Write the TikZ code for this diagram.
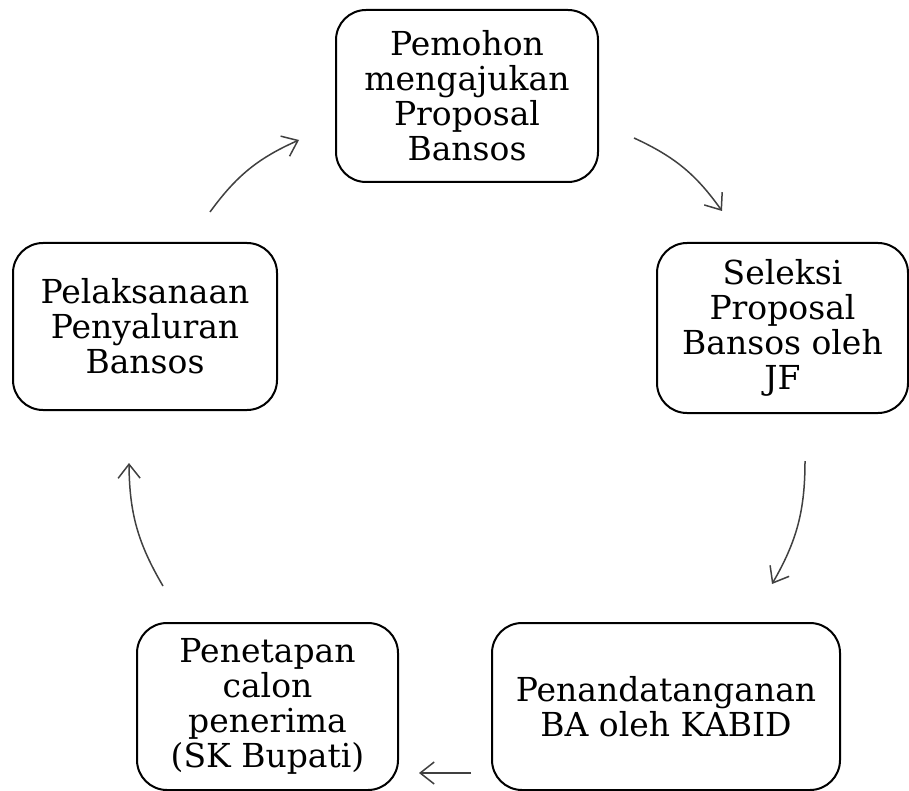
\documentclass[tikz,border=0pt]{standalone}
\usepackage{fontspec}
\setmainfont{DejaVu Serif}
\usetikzlibrary{arrows.meta}

\tikzset{
  tahap/.style={draw, line width=2pt, rounded corners=30pt, align=center,
    inner sep=0pt, font=\fontsize{33}{35}\selectfont},
  alur/.style={line width=1.5pt, draw=black!75,
    -{Straight Barb[length=14pt,width=22pt,line width=1.5pt]}}
}

\begin{document}
\begin{tikzpicture}[x=1pt, y=-1pt]

  \useasboundingbox (0,0) rectangle (909,791);

  % tahapan
  \node[tahap, minimum width=262pt, minimum height=172pt] (pem) at (467,96)
    {Pemohon\\mengajukan\\Proposal\\Bansos};
  \node[tahap, minimum width=251pt, minimum height=170pt] (sel) at (782.5,328)
    {Seleksi\\Proposal\\Bansos oleh\\JF};
  \node[tahap, minimum width=348pt, minimum height=167pt] (pen) at (666,706.5)
    {Penandatanganan\\BA oleh KABID};
  \node[tahap, minimum width=261pt, minimum height=167pt] (pet) at (267.5,706.5)
    {Penetapan\\calon\\penerima\\(SK Bupati)};
  \node[tahap, minimum width=264pt, minimum height=167pt] (pel) at (145,326.5)
    {Pelaksanaan\\Penyaluran\\Bansos};

  % alur
  \draw[alur] ([xshift=65pt,yshift=30pt]pel.north) to[bend left=15]
    ([xshift=-36pt,yshift=-44pt]pem.west);
  \draw[alur] ([xshift=35pt,yshift=-42pt]pem.east) to[bend left=15]
    ([xshift=-60.5pt,yshift=31pt]sel.north);
  \draw[alur] ([xshift=22.5pt,yshift=-47pt]sel.south) to[bend left=15]
    ([xshift=106pt,yshift=38pt]pen.north);
  \draw[alur] ([xshift=-20pt,yshift=-66.5pt]pen.west) --
    ([xshift=20pt,yshift=-66.5pt]pet.east);
  \draw[alur] ([xshift=-104.5pt,yshift=36pt]pet.north) to[bend left=15]
    ([xshift=-16pt,yshift=-52pt]pel.south);

\end{tikzpicture}
\end{document}
